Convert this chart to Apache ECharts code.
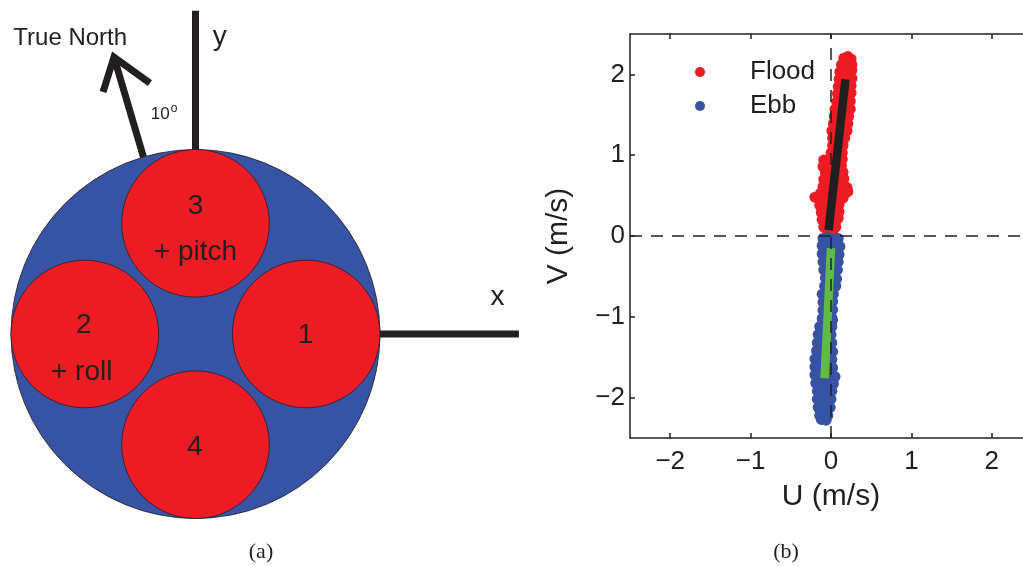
<!DOCTYPE html>
<html>
<head>
<meta charset="utf-8">
<script src="https://cdn.jsdelivr.net/npm/echarts@6/dist/echarts.min.js"></script>
<style>
  html, body { margin: 0; padding: 0; background: #ffffff; }
  #chart { width: 1023px; height: 566px; }
</style>
</head>
<body>
<div id="chart"></div>
<script>
// ---- (b) velocity scatter: U (east) vs V (north), m/s ----
const U_TICKS = [-2, -1, 0, 1, 2];
const V_TICKS = [-2, -1, 0, 1, 2];
const U_RANGE = [-2.5, 2.5];
const V_RANGE = [-2.5, 2.5];

// flood-tide velocity samples [U, V]
const floodPoints = [
  [0.16, 2.20], [0.21, 2.22], [0.25, 2.19],
  [0.13, 2.12], [0.19, 2.13], [0.26, 2.12],
  [0.11, 2.03], [0.17, 2.04], [0.23, 2.02], [0.26, 2.05],
  [0.10, 1.94], [0.16, 1.95], [0.21, 1.93], [0.26, 1.95],
  [0.09, 1.85], [0.14, 1.86], [0.20, 1.84], [0.25, 1.86],
  [0.08, 1.76], [0.13, 1.77], [0.19, 1.75], [0.25, 1.77],
  [0.07, 1.66], [0.12, 1.67], [0.18, 1.65], [0.24, 1.67],
  [0.05, 1.57], [0.11, 1.58], [0.17, 1.56], [0.24, 1.57],
  [0.04, 1.48], [0.10, 1.49], [0.16, 1.47], [0.22, 1.48],
  [0.03, 1.39], [0.09, 1.40], [0.15, 1.38], [0.21, 1.39],
  [0.01, 1.30], [0.07, 1.31], [0.13, 1.29], [0.20, 1.30],
  [0.02, 1.21], [0.07, 1.22], [0.12, 1.20], [0.17, 1.21],
  [0.02, 1.12], [0.06, 1.13], [0.11, 1.11], [0.15, 1.12],
  [0.00, 1.03], [0.05, 1.04], [0.10, 1.02], [0.14, 1.03],
  [-0.09, 0.94], [-0.03, 0.95], [0.03, 0.93], [0.09, 0.94], [0.14, 0.95],
  [-0.10, 0.86], [-0.04, 0.87], [0.02, 0.85], [0.08, 0.86], [0.13, 0.87],
  [-0.07, 0.78], [-0.01, 0.79], [0.05, 0.77], [0.11, 0.78], [0.15, 0.79],
  [-0.09, 0.70], [-0.03, 0.71], [0.03, 0.69], [0.09, 0.70], [0.16, 0.71],
  [-0.10, 0.61], [-0.04, 0.62], [0.02, 0.60], [0.08, 0.61], [0.14, 0.62], [0.20, 0.60],
  [-0.13, 0.53], [-0.07, 0.54], [-0.01, 0.52], [0.05, 0.53], [0.11, 0.54], [0.17, 0.52], [0.21, 0.55],
  [-0.20, 0.48], [-0.15, 0.46], [-0.09, 0.47], [-0.03, 0.46], [0.03, 0.47], [0.09, 0.46], [0.15, 0.47],
  [-0.14, 0.38], [-0.08, 0.39], [-0.02, 0.37], [0.04, 0.38], [0.10, 0.39],
  [-0.12, 0.29], [-0.06, 0.30], [0.00, 0.28], [0.06, 0.29], [0.10, 0.30],
  [-0.11, 0.20], [-0.05, 0.21], [0.01, 0.19], [0.07, 0.20], [0.09, 0.22],
  [-0.09, 0.11], [-0.03, 0.12], [0.03, 0.10], [0.06, 0.11],
  [-0.04, 0.05], [0.02, 0.05]
];

// ebb-tide velocity samples [U, V]
const ebbPoints = [
  [-0.10, -0.03], [-0.04, -0.02], [0.02, -0.04], [0.09, -0.03],
  [-0.11, -0.12], [-0.05, -0.13], [0.01, -0.11], [0.07, -0.12], [0.11, -0.13],
  [-0.11, -0.22], [-0.05, -0.23], [0.01, -0.21], [0.07, -0.22], [0.10, -0.23],
  [-0.10, -0.32], [-0.04, -0.33], [0.02, -0.31], [0.09, -0.32],
  [-0.09, -0.42], [-0.03, -0.43], [0.03, -0.41], [0.08, -0.42],
  [-0.07, -0.52], [-0.01, -0.53], [0.05, -0.51], [0.07, -0.53],
  [-0.08, -0.62], [-0.02, -0.63], [0.04, -0.61], [0.06, -0.62],
  [-0.11, -0.72], [-0.05, -0.73], [0.01, -0.71], [0.03, -0.72],
  [-0.10, -0.82], [-0.04, -0.83], [0.02, -0.81],
  [-0.10, -0.92], [-0.04, -0.93], [0.02, -0.91],
  [-0.11, -1.02], [-0.05, -1.03], [0.01, -1.01], [0.02, -1.04],
  [-0.14, -1.12], [-0.08, -1.13], [-0.02, -1.11], [0.01, -1.12],
  [-0.16, -1.22], [-0.10, -1.23], [-0.04, -1.21], [0.00, -1.22],
  [-0.17, -1.32], [-0.11, -1.33], [-0.05, -1.31], [0.01, -1.32],
  [-0.18, -1.42], [-0.12, -1.43], [-0.06, -1.41], [0.00, -1.42], [0.02, -1.43],
  [-0.20, -1.52], [-0.14, -1.53], [-0.08, -1.51], [-0.02, -1.52], [0.01, -1.53],
  [-0.20, -1.62], [-0.14, -1.63], [-0.08, -1.61], [-0.02, -1.62], [0.02, -1.63],
  [-0.20, -1.72], [-0.14, -1.73], [-0.08, -1.71], [-0.02, -1.72], [0.05, -1.74],
  [-0.19, -1.82], [-0.13, -1.83], [-0.07, -1.81], [-0.01, -1.82], [0.03, -1.83],
  [-0.17, -1.92], [-0.11, -1.93], [-0.05, -1.91], [0.01, -1.92],
  [-0.17, -2.02], [-0.11, -2.03], [-0.05, -2.01], [0.00, -2.02],
  [-0.16, -2.12], [-0.10, -2.13], [-0.04, -2.11], [-0.01, -2.12],
  [-0.14, -2.22], [-0.08, -2.23], [-0.04, -2.22],
  [-0.12, -2.27], [-0.06, -2.28]
];

// principal-axis fits for each tide phase
const floodFit = [[-0.03, 0.07], [0.18, 1.94]];
const ebbFit = [[0.00, -0.15], [-0.08, -1.76]];

// ---- (a) instrument head, in units of the housing radius ----
const housing = [[0, 0, 1]];                       // [cx, cy, r]
const transducers = [[0.6, 0, 0.4], [-0.6, 0, 0.4], [0, 0.6, 0.4], [0, -0.6, 0.4]];
const yBeamAxis = [[0, 1], [0, 1.752]];
const xBeamAxis = [[1, 0], [1.753, 0]];
const northShaft = [[-0.282, 0.959], [-0.442, 1.501]];
const northHead = [[-0.501, 1.312], [-0.442, 1.501], [-0.247, 1.360]];

const headLabels = [
  { text: '3', at: [0, 0.694], size: 28 },
  { text: '+ pitch', at: [0, 0.444], size: 28 },
  { text: '2', at: [-0.606, 0.046], size: 28 },
  { text: '+ roll', at: [-0.617, -0.206], size: 28 },
  { text: '1', at: [0.597, -0.008], size: 28 },
  { text: '4', at: [-0.004, -0.612], size: 28 },
  { text: 'y', at: [0.131, 1.606], size: 28 },
  { text: 'x', at: [1.637, 0.197], size: 28 },
  { text: 'True North', at: [-0.679, 1.604], size: 24 },
  { text: '10', at: [-0.191, 1.192], size: 17 },
  { text: 'o', at: [-0.1165, 1.223], size: 12 }
];

const INK = '#231f20';
const RED = '#ed1c24';
const BLUE = '#3853a4';
const GREEN = '#5fba46';
const SANS = '"Liberation Sans", Arial, Helvetica, sans-serif';
const SERIF = '"Liberation Serif", "Times New Roman", serif';

const minusFmt = v => (v < 0 ? '\u2212' + Math.abs(v) : String(v));

const chart = echarts.init(document.getElementById('chart'), null, { renderer: 'canvas' });

const strokeSeries = (pts) => ({
  type: 'line',
  xAxisIndex: 2, yAxisIndex: 2,
  data: pts,
  symbol: 'none',
  silent: true,
  lineStyle: { color: INK, width: 7, cap: 'butt', join: 'miter' },
  z: 3
});

chart.setOption({
  animation: false,
  backgroundColor: '#ffffff',
  textStyle: { fontFamily: SANS },
  grid: [
    { left: 630, top: 34, width: 402, height: 404, outerBoundsMode: 'none', containLabel: false },
    { left: 0, top: 0, width: 520, height: 566, outerBoundsMode: 'none', containLabel: false }
  ],
  legend: {
    data: ['Flood', 'Ebb'],
    orient: 'vertical',
    left: 695,
    top: 59,
    padding: 0,
    icon: 'circle',
    itemWidth: 10,
    itemHeight: 10,
    itemGap: 8,
    selectedMode: false,
    textStyle: { fontSize: 26, lineHeight: 26, color: INK, fontFamily: SANS, padding: [0, 0, 0, 40] }
  },
  xAxis: [
    {
      type: 'value', gridIndex: 0, min: U_RANGE[0], max: U_RANGE[1],
      name: 'U (m/s)', nameLocation: 'middle', nameGap: 44,
      nameTextStyle: { fontSize: 30, color: INK, fontFamily: SANS },
      axisLine: { show: true, onZero: false, lineStyle: { color: INK, width: 1.5 } },
      axisTick: { show: true, inside: true, length: 5, customValues: U_TICKS, lineStyle: { color: INK, width: 1.5 } },
      axisLabel: { show: true, customValues: U_TICKS, formatter: minusFmt, fontSize: 26, color: INK, margin: 11, fontFamily: SANS },
      splitLine: { show: false }
    },
    {
      type: 'value', gridIndex: 0, position: 'top', min: U_RANGE[0], max: U_RANGE[1],
      axisLine: { show: true, onZero: false, lineStyle: { color: INK, width: 1.5 } },
      axisTick: { show: true, inside: true, length: 5, customValues: U_TICKS, lineStyle: { color: INK, width: 1.5 } },
      axisLabel: { show: false },
      splitLine: { show: false }
    },
    {
      type: 'value', gridIndex: 1, min: -1.0596, max: 1.7588, show: false
    }
  ],
  yAxis: [
    {
      type: 'value', gridIndex: 0, min: V_RANGE[0], max: V_RANGE[1],
      name: 'V (m/s)', nameLocation: 'middle', nameGap: 56, nameRotate: 90,
      nameTextStyle: { fontSize: 30, color: INK, fontFamily: SANS },
      axisLine: { show: true, onZero: false, lineStyle: { color: INK, width: 1.5 } },
      axisTick: { show: true, inside: true, length: 5, customValues: V_TICKS, lineStyle: { color: INK, width: 1.5 } },
      axisLabel: { show: true, customValues: V_TICKS, formatter: minusFmt, fontSize: 26, color: INK, margin: 5, fontFamily: SANS },
      splitLine: { show: false }
    },
    {
      type: 'value', gridIndex: 0, position: 'right', min: V_RANGE[0], max: V_RANGE[1],
      axisLine: { show: true, onZero: false, lineStyle: { color: INK, width: 1.5 } },
      axisTick: { show: false }, axisLabel: { show: false }, splitLine: { show: false }
    },
    {
      type: 'value', gridIndex: 1, min: -1.2575, max: 1.8103, show: false
    }
  ],
  graphic: [
    { type: 'text', x: 261, y: 552, style: { text: '(a)', fontSize: 22, fontFamily: SERIF, fill: INK, align: 'center', verticalAlign: 'middle' } },
    { type: 'text', x: 786, y: 552, style: { text: '(b)', fontSize: 22, fontFamily: SERIF, fill: INK, align: 'center', verticalAlign: 'middle' } }
  ],
  series: [
    // housing and the four transducer faces
    {
      type: 'custom',
      xAxisIndex: 2, yAxisIndex: 2,
      silent: true,
      data: housing.map(c => c.concat(0)).concat(transducers.map(c => c.concat(1))),
      renderItem: (params, api) => {
        const c = api.coord([api.value(0), api.value(1)]);
        const r = api.size([api.value(2), 0])[0];
        return {
          type: 'circle',
          shape: { cx: c[0], cy: c[1], r: r },
          style: { fill: api.value(3) === 0 ? BLUE : RED, stroke: INK, lineWidth: 0.8 }
        };
      },
      z: 1
    },
    strokeSeries(yBeamAxis),
    strokeSeries(xBeamAxis),
    strokeSeries(northShaft),
    strokeSeries(northHead),
    {
      type: 'scatter',
      xAxisIndex: 2, yAxisIndex: 2,
      silent: true,
      symbolSize: 1,
      itemStyle: { color: 'transparent', opacity: 1 },
      label: { show: true, position: 'inside', color: INK, fontFamily: SANS },
      data: headLabels.map(l => ({ value: l.at, label: { formatter: l.text, fontSize: l.size } })),
      z: 4
    },
    // velocity scatter
    {
      name: 'Flood', type: 'scatter', xAxisIndex: 0, yAxisIndex: 0,
      data: floodPoints, symbol: 'circle', symbolSize: 11,
      itemStyle: { color: RED, opacity: 1 }, z: 2
    },
    {
      name: 'Ebb', type: 'scatter', xAxisIndex: 0, yAxisIndex: 0,
      data: ebbPoints, symbol: 'circle', symbolSize: 11,
      itemStyle: { color: BLUE, opacity: 1 }, z: 2
    },
    {
      name: 'flood fit', type: 'line', xAxisIndex: 0, yAxisIndex: 0,
      data: floodFit, symbol: 'none', silent: true,
      lineStyle: { color: INK, width: 8.5, cap: 'butt' }, z: 3
    },
    {
      name: 'ebb fit', type: 'line', xAxisIndex: 0, yAxisIndex: 0,
      data: ebbFit, symbol: 'none', silent: true,
      lineStyle: { color: GREEN, width: 8.5, cap: 'butt' }, z: 3
    },
    {
      name: 'zero V', type: 'line', xAxisIndex: 0, yAxisIndex: 0,
      data: [[U_RANGE[0], 0], [U_RANGE[1], 0]], symbol: 'none', silent: true,
      lineStyle: { color: INK, width: 1.5, type: [12, 9] }, z: 4
    },
    {
      name: 'zero U', type: 'line', xAxisIndex: 0, yAxisIndex: 0,
      data: [[0, V_RANGE[0]], [0, V_RANGE[1]]], symbol: 'none', silent: true,
      lineStyle: { color: INK, width: 1.5, type: [12, 9] }, z: 4
    }
  ]
});
</script>
</body>
</html>
